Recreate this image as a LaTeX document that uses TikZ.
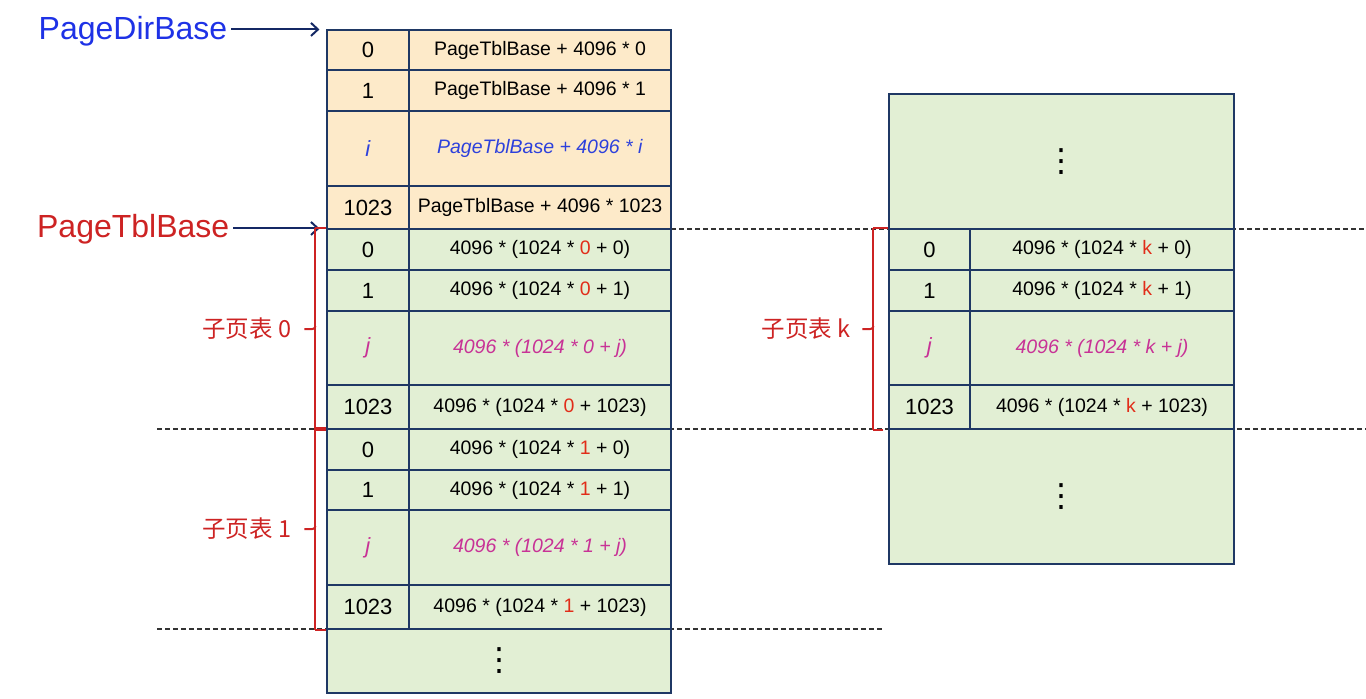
\documentclass[tikz,border=0pt]{standalone}
\usepackage{fontspec}
\setmainfont{Liberation Sans}
\newfontfamily\cjk{Noto Sans CJK SC}
\newfontfamily\symfont{DejaVu Sans}
\usepackage{tikz}
\usetikzlibrary{arrows.meta,positioning,calc}
\definecolor{tblline}{RGB}{31,56,100}
\definecolor{dirfill}{RGB}{253,234,201}
\definecolor{ptfill}{RGB}{226,239,212}
\definecolor{basenavy}{RGB}{20,40,100}
\definecolor{dirblue}{RGB}{30,50,230}
\definecolor{tblred}{RGB}{205,35,35}
\definecolor{idxblue}{RGB}{45,65,220}
\definecolor{jmagenta}{RGB}{200,50,150}
\definecolor{kred}{RGB}{225,45,25}
\newcommand{\hl}[1]{\textcolor{kred}{#1}}

\begin{document}
\begin{tikzpicture}[x=1pt, y=-1pt,
    cell/.style={draw=tblline, line width=1.1pt, inner sep=0pt},
    idx/.style={cell, minimum width=82pt, font=\fontsize{22}{24}\selectfont},
    val/.style={cell, minimum width=262pt, font=\fontsize{19.5}{22}\selectfont},
    kidx/.style={idx, minimum width=81pt},
    kval/.style={val, minimum width=264pt},
    dots/.style={cell, fill=ptfill, font=\symfont\fontsize{32}{34}\selectfont},
    baselbl/.style={inner sep=4pt, font=\fontsize{32}{35}\selectfont},
    sublbl/.style={inner sep=0pt, text=tblred, font=\cjk\fontsize{23.5}{26}\selectfont},
    basearrow/.style={-{Straight Barb[length=7pt, width=13pt]}, line width=2pt, color=basenavy},
    cut/.style={line width=1.1pt, color=black!80, dash pattern=on 5pt off 3pt},
    brk/.style={draw=tblred, line width=2pt, line join=round}]
    \useasboundingbox (0,0) rectangle (1366,699);

    % cut lines between sub tables
    \coordinate (cutR0) at (1366,229);
    \coordinate (cutL1) at (157,429);
    \coordinate (cutR1) at (1366,429);
    \coordinate (cutL2) at (157,629);
    \coordinate (cutR2) at (884,629);
    \draw[cut] (671,229) -- (cutR0);
    \draw[cut] (cutL1) -- (cutR1);
    \draw[cut] (cutL2) -- (cutR2);

    % Page directory
    \node[idx, fill=dirfill, minimum height=40pt] (d0) at (368,50) {0};
    \node[val, fill=dirfill, minimum height=40pt] (d0v) at (540,50) {PageTblBase + 4096 * 0};
    \node[idx, fill=dirfill, minimum height=41pt] (d1) at (368,90.5) {1};
    \node[val, fill=dirfill, minimum height=41pt] (d1v) at (540,90.5) {PageTblBase + 4096 * 1};
    \node[idx, fill=dirfill, minimum height=75pt, text=idxblue] (di) at (368,148.5) {\textit{i}};
    \node[val, fill=dirfill, minimum height=75pt, text=idxblue] (div) at (540,148.5) {\textit{PageTblBase + 4096 * i}};
    \node[idx, fill=dirfill, minimum height=43pt] (dn) at (368,207.5) {1023};
    \node[val, fill=dirfill, minimum height=43pt] (dnv) at (540,207.5) {PageTblBase + 4096 * 1023};

    % Sub table 0
    \node[idx, fill=ptfill, minimum height=41pt] (a0) at (368,249.5) {0};
    \node[val, fill=ptfill, minimum height=41pt] (a0v) at (540,249.5) {4096 * (1024 * \hl{0} + 0)};
    \node[idx, fill=ptfill, minimum height=41pt] (a1) at (368,290.5) {1};
    \node[val, fill=ptfill, minimum height=41pt] (a1v) at (540,290.5) {4096 * (1024 * \hl{0} + 1)};
    \node[idx, fill=ptfill, minimum height=74pt, text=jmagenta] (aj) at (368,348) {\textit{j}};
    \node[val, fill=ptfill, minimum height=74pt, text=jmagenta] (ajv) at (540,348) {\textit{4096 * (1024 * 0 + j)}};
    \node[idx, fill=ptfill, minimum height=44pt] (an) at (368,407) {1023};
    \node[val, fill=ptfill, minimum height=44pt] (anv) at (540,407) {4096 * (1024 * \hl{0} + 1023)};

    % Sub table 1
    \node[idx, fill=ptfill, minimum height=41pt] (b0) at (368,449.5) {0};
    \node[val, fill=ptfill, minimum height=41pt] (b0v) at (540,449.5) {4096 * (1024 * \hl{1} + 0)};
    \node[idx, fill=ptfill, minimum height=40pt] (b1) at (368,490) {1};
    \node[val, fill=ptfill, minimum height=40pt] (b1v) at (540,490) {4096 * (1024 * \hl{1} + 1)};
    \node[idx, fill=ptfill, minimum height=75pt, text=jmagenta] (bj) at (368,547.5) {\textit{j}};
    \node[val, fill=ptfill, minimum height=75pt, text=jmagenta] (bjv) at (540,547.5) {\textit{4096 * (1024 * 1 + j)}};
    \node[idx, fill=ptfill, minimum height=44pt] (bn) at (368,607) {1023};
    \node[val, fill=ptfill, minimum height=44pt] (bnv) at (540,607) {4096 * (1024 * \hl{1} + 1023)};
    \node[dots, minimum width=344pt, minimum height=64pt] (brest) at (499,661) {⋮};

    % Sub table k
    \node[dots, minimum width=345pt, minimum height=135pt] (ktop) at (1061.5,161.5) {⋮};
    \node[kidx, fill=ptfill, minimum height=41pt] (k0) at (929.5,249.5) {0};
    \node[kval, fill=ptfill, minimum height=41pt] (k0v) at (1102,249.5) {4096 * (1024 * \hl{k} + 0)};
    \node[kidx, fill=ptfill, minimum height=41pt] (k1) at (929.5,290.5) {1};
    \node[kval, fill=ptfill, minimum height=41pt] (k1v) at (1102,290.5) {4096 * (1024 * \hl{k} + 1)};
    \node[kidx, fill=ptfill, minimum height=74pt, text=jmagenta] (kj) at (929.5,348) {\textit{j}};
    \node[kval, fill=ptfill, minimum height=74pt, text=jmagenta] (kjv) at (1102,348) {\textit{4096 * (1024 * k + j)}};
    \node[kidx, fill=ptfill, minimum height=44pt] (kn) at (929.5,407) {1023};
    \node[kval, fill=ptfill, minimum height=44pt] (knv) at (1102,407) {4096 * (1024 * \hl{k} + 1023)};
    \node[dots, minimum width=345pt, minimum height=135pt] (kbot) at (1061.5,496.5) {⋮};

    % Base pointers
    \node[baselbl, text=dirblue, left=95pt of d0.north west, yshift=-2pt] (pdb) {PageDirBase};
    \node[baselbl, text=tblred, left=93pt of a0.north west, yshift=-1pt] (ptb) {PageTblBase};
    \draw[basearrow] (pdb.east |- d0.north west) -- ([xshift=-7pt]d0.north west);
    \draw[basearrow] (ptb.east |- a0.north west) -- ([xshift=-7pt]a0.north west);

    % Brackets
    \coordinate (n0) at ($(a0.north west)!0.5!(an.south west)+(-11,0)$);
    \coordinate (n1) at ($(b0.north west)!0.5!(bn.south west)+(-11,0)$);
    \coordinate (nk) at ($(k0.north west)!0.5!(kn.south west)+(-15,0)$);
    \draw[brk] ([xshift=-11pt]a0.north west) -- ([xshift=-11pt]an.south west);
    \draw[brk] ([xshift=-11pt]b0.north west) -- ([xshift=-11pt]bn.south west);
    \draw[brk] ([xshift=-15pt]k0.north west) -- ([xshift=-15pt]kn.south west);
    \draw[brk] (a0.north west) -- ++(-11,0) (an.south west) -- ++(-11,0);
    \draw[brk] (b0.north west) -- ++(-11,0) (bn.south west) -- ++(-11,0);
    \draw[brk] (k0.north west) -- ++(-15,0) ([xshift=-5pt]kn.south west) -- ++(-10,0);
    \draw[brk] ($(n0)+(0,-3)$) to[out=-90, in=0] ($(n0)+(-3,0)$) -- ++(-8,0);
    \draw[brk] ($(n1)+(0,-3)$) to[out=-90, in=0] ($(n1)+(-3,0)$) -- ++(-8,0);
    \draw[brk] ($(nk)+(0,-3)$) to[out=-90, in=0] ($(nk)+(-3,0)$) -- ++(-8,0);
    \node[sublbl, left=24pt of n0] (s0) {子页表 0};
    \node[sublbl, left=24pt of n1] (s1) {子页表 1};
    \node[sublbl, left=23pt of nk] (sk) {子页表 k};
\end{tikzpicture}
\end{document}
